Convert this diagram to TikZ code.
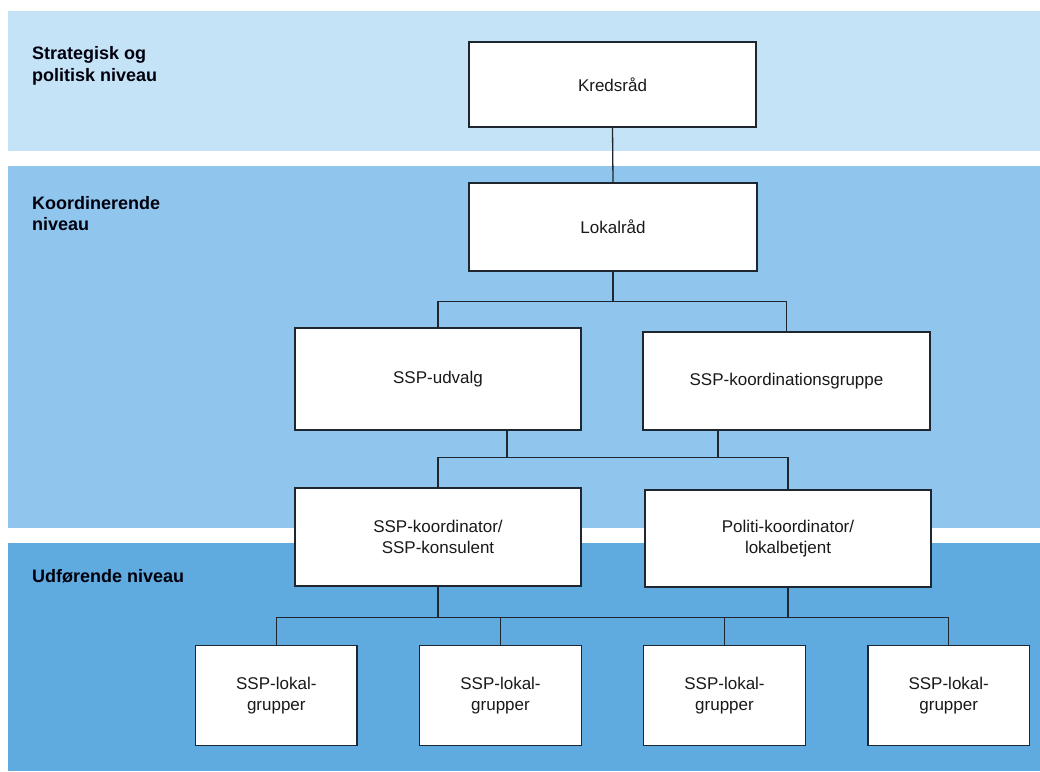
\documentclass[tikz,border=0pt]{standalone}
\usepackage{fontspec}
\setmainfont{Liberation Sans}
\usetikzlibrary{calc}

\definecolor{niveauA}{HTML}{C5E3F7}
\definecolor{niveauB}{HTML}{90C6ED}
\definecolor{niveauC}{HTML}{5FAADF}
\definecolor{streg}{HTML}{1E2630}

\begin{document}
\begin{tikzpicture}[x=1pt, y=-1pt,
    boks/.style={draw=streg, line width=1.3pt, fill=white, align=center, inner sep=0pt,
        text=black!90, font=\fontsize{17}{21.5}\selectfont},
    niveau/.style={anchor=base west, align=left, inner sep=0pt, text=black!95!blue,
        font=\bfseries\fontsize{18}{21.3}\selectfont},
    forb/.style={draw=streg, line width=1.3pt}]
    \useasboundingbox (0,0) rectangle (1040,771);

    % Niveauer
    \fill[niveauA] (8,11) rectangle (1040,151);
    \fill[niveauB] (8,166) rectangle (1040,528);
    \fill[niveauC] (8,543) rectangle (1040,771);
    \node[niveau] (strat) at (32,81) {Strategisk og\\politisk niveau};
    \node[niveau] (koordniv) at (32,230.7) {Koordinerende\\niveau};
    \node[niveau] (udf) at (32,582.3) {Udførende niveau};

    % Bokse
    \node[boks, minimum width=287, minimum height=85] (kreds) at (612.5,84.5) {Kredsråd};
    \node[boks, minimum width=288, minimum height=88] (lokal) at (613,227) {Lokalråd};
    \node[boks, minimum width=286, minimum height=102] (udvalg) at (438,379) {SSP-udvalg};
    \node[boks, minimum width=287, minimum height=98] (koord) at (786.5,381) {SSP-koordinationsgruppe};
    \node[boks, minimum width=286, minimum height=98] (sspk) at (438,537) {SSP-koordinator/\\SSP-konsulent};
    \node[boks, minimum width=286, minimum height=97] (politi) at (788,538.5) {Politi-koordinator/\\lokalbetjent};
    \foreach \i/\x in {1/276.3, 2/500.5, 3/724.5, 4/948.7}
        \node[boks, minimum width=161.5, minimum height=100] (g\i) at (\x,695.7) {SSP-lokal-\\grupper};

    % Forbindelser
    \draw[forb] (kreds.south) -- (lokal.north);
    \draw[forb] (lokal.south) -- ++(0,30) coordinate (j1);
    \draw[forb] (udvalg.north) |- (j1) -| (koord.north);

    \coordinate (udv-ud) at ($(udvalg.south west)!0.74!(udvalg.south east)$);
    \coordinate (koord-ud) at ($(koord.south west)!0.262!(koord.south east)$);
    \draw[forb] (udv-ud) -- ++(0,26.7) coordinate (j2);
    \draw[forb] (koord-ud) -- (koord-ud |- j2);
    \draw[forb] (sspk.north) |- (j2) -| (politi.north);

    \draw[forb] (sspk.south) -- ++(0,31) coordinate (j3);
    \draw[forb] (politi.south) -- (politi.south |- j3);
    \draw[forb] (g1.north) |- (j3) -| (g4.north);
    \draw[forb] (g2.north) -- (g2.north |- j3);
    \draw[forb] (g3.north) -- (g3.north |- j3);
\end{tikzpicture}
\end{document}
